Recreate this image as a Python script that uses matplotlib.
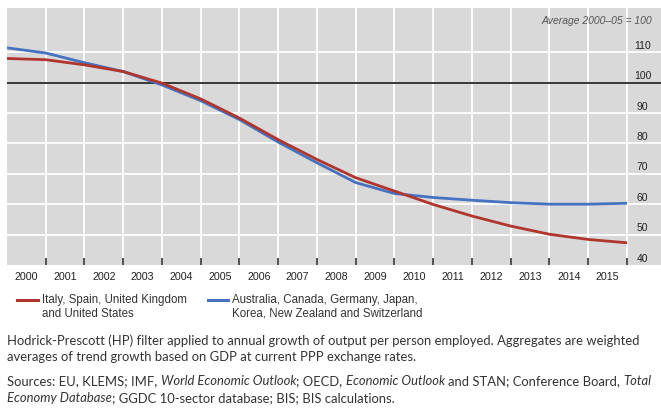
import numpy as np
import matplotlib
matplotlib.use('Agg')
import matplotlib.pyplot as plt
from matplotlib.lines import Line2D
from matplotlib.transforms import IdentityTransform

W, H = 661, 412

# values read at the year boundaries (start of 2000 ... end of 2015)
years = list(range(2000, 2016))
red_vals = [107.9, 107.5, 105.8, 103.6, 99.8, 94.6, 88.3, 81.2, 74.7, 68.7,
            64.3, 59.9, 56.1, 52.8, 50.1, 48.4, 47.3]
blue_vals = [111.4, 109.7, 106.5, 103.6, 99.2, 94.0, 87.8, 80.4, 73.6, 67.1,
             63.5, 62.2, 61.3, 60.5, 60.0, 60.0, 60.3]
y_ticks = [40, 50, 60, 70, 80, 90, 100, 110]
red_label = "Italy, Spain, United Kingdom\nand United States"
blue_label = "Australia, Canada, Germany, Japan,\nKorea, New Zealand and Switzerland"
note_lines = ["Hodrick-Prescott (HP) filter applied to annual growth of output per person employed. "
              "Aggregates are weighted",
              "averages of trend growth based on GDP at current PPP exchange rates."]
source_lines = [
    [("Sources: EU, KLEMS; IMF,", False), ("World Economic Outlook", True), ("; OECD,", False),
     ("Economic Outlook", True), ("and STAN; Conference Board,", False), ("Total", True)],
    [("Economy Database", True), ("; GGDC 10-sector database; BIS; BIS calculations.", False)],
]

RED = '#b0352d'
BLUE = '#4673c0'
plt.rcParams['font.family'] = ['Liberation Sans', 'DejaVu Sans']

fig = plt.figure(figsize=(W / 100, H / 100), dpi=100)
ax = fig.add_axes([7 / W, 1 - 265 / H, 654 / W, 257 / H])
ax.set_facecolor('#d9d9d9')
for s in ax.spines.values():
    s.set_visible(False)

x = np.arange(len(red_vals))
ax.set_xlim(0, 16 + 34 / 38.75)
ax.set_ylim(40, 124.5)

for v in y_ticks:
    if v not in (40, 100):
        ax.axhline(v, color='white', lw=1.3, zorder=1)
for i in range(1, 17):
    ax.axvline(i, color='white', lw=1.3, zorder=1)
ax.axhline(100, color='#2a2a2a', lw=1.3, zorder=2)

ax.plot(x, blue_vals, color=BLUE, lw=2.0, zorder=3, solid_capstyle='butt')
ax.plot(x, red_vals, color=RED, lw=2.0, zorder=4, solid_capstyle='butt')

ax.set_yticks([])
ax.set_xticks(np.arange(len(years)) + 0.5)
ax.set_xticklabels([str(y) for y in years], fontsize=7.7, color='#222')
ax.set_xticks(np.arange(1, 17), minor=True)
ax.tick_params(axis='x', which='major', length=0, pad=5)
ax.tick_params(axis='x', which='minor', direction='in', length=5, width=1.1, color='#222')

for v in y_ticks:
    ax.text(16.4, v + 2.1, str(v), ha='center', va='center', fontsize=7.5, color='#222')

fig.text(652 / W, 1 - 21 / H, "Average 2000\u201305 = 100", ha='right', va='center',
         style='italic', fontsize=7.5, color='#555')

# legend
px = IdentityTransform()
fig.add_artist(Line2D([17, 38], [H - 300, H - 300], color=RED, lw=2.2, transform=px))
fig.add_artist(Line2D([208, 228], [H - 300, H - 300], color=BLUE, lw=2.2, transform=px))
fig.text(42, H - 294, red_label, transform=px, va='top', fontsize=8.3, color='#333',
         linespacing=1.2)
fig.text(232, H - 294, blue_label, transform=px, va='top', fontsize=8.3, color='#333',
         linespacing=1.2)

# notes
NOTE_FONT = ['Lato', 'DejaVu Sans']
NOTE_SIZE = 9.4
for row, s in enumerate(note_lines):
    fig.text(7, H - (345 + 16 * row), s, transform=px, va='baseline', fontsize=NOTE_SIZE,
             family=NOTE_FONT, color='#333')

r = fig.canvas.get_renderer()


def text_width(s, italic):
    t = fig.text(0, 0, s, family=NOTE_FONT, fontsize=NOTE_SIZE,
                 style='italic' if italic else 'normal')
    w = t.get_window_extent(renderer=r).width
    t.remove()
    return w


space = text_width("a a", False) - text_width("aa", False)
for row, parts in enumerate(source_lines):
    xpos = 7
    ypos = H - (385 + 17 * row)
    for k, (s, it) in enumerate(parts):
        if k > 0 and not s.startswith(";"):
            xpos += space
        t = fig.text(xpos, ypos, s, transform=px, va='baseline', fontsize=NOTE_SIZE,
                     family=NOTE_FONT, color='#333', style='italic' if it else 'normal')
        xpos += t.get_window_extent(renderer=r).width

fig.savefig('out.png', dpi=100)
